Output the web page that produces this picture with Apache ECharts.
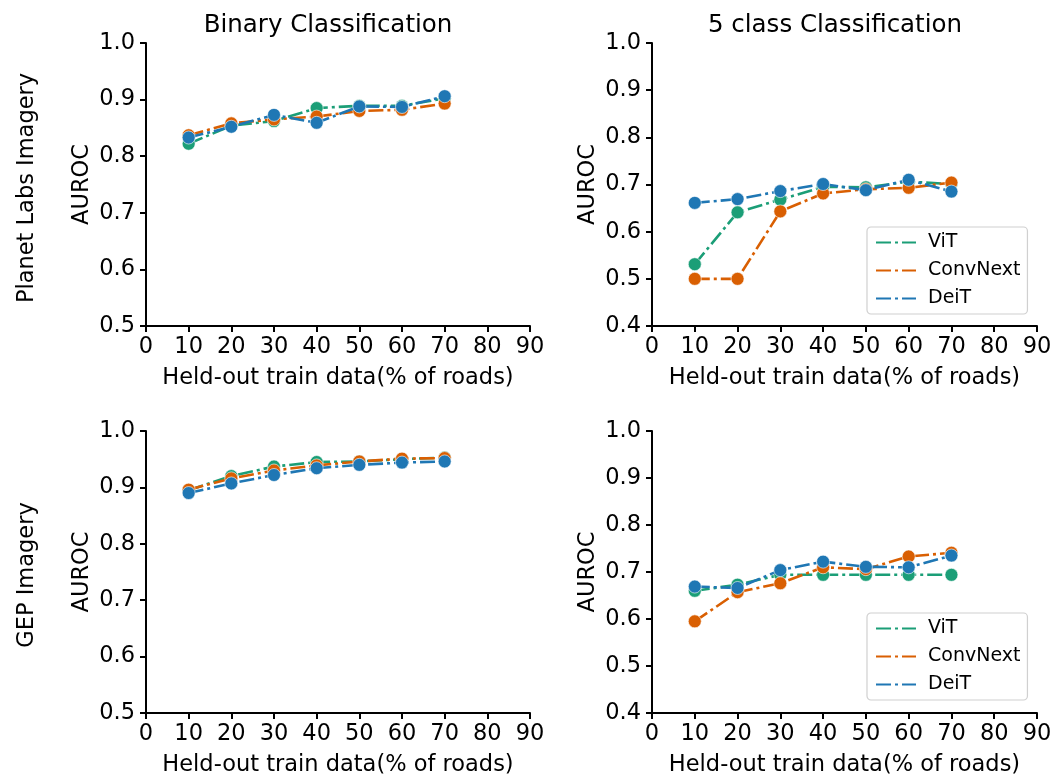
<!DOCTYPE html>
<html>
<head>
<meta charset="utf-8">
<script src="https://cdn.jsdelivr.net/npm/echarts@6/dist/echarts.min.js"></script>
<style>
html,body{margin:0;padding:0;background:#fff;}
#chart{width:1055px;height:780px;}
</style>
</head>
<body>
<div id="chart"></div>
<script>
// Held-out train data (% of roads)
const heldOut = [10, 20, 30, 40, 50, 60, 70];
const seriesNames = ['ViT', 'ConvNext', 'DeiT'];
const colTitles = ['Binary Classification', '5 class Classification'];
const rowTitles = ['Planet Labs Imagery', 'GEP Imagery'];
const xTicks = [0, 90, 10];
const yTicksBinary = [0.5, 1.0, 0.1];
const yTicksFive = [0.4, 1.0, 0.1];

// Planet Labs, binary
const planetBinaryViT      = [0.822, 0.854, 0.862, 0.885, 0.889, 0.889, 0.902];
const planetBinaryConvNext = [0.837, 0.858, 0.865, 0.870, 0.880, 0.882, 0.893];
const planetBinaryDeiT     = [0.833, 0.852, 0.873, 0.859, 0.888, 0.887, 0.906];
// Planet Labs, 5 class
const planetFiveViT      = [0.531, 0.641, 0.668, 0.695, 0.694, 0.706, 0.701];
const planetFiveConvNext = [0.500, 0.500, 0.643, 0.681, 0.690, 0.693, 0.704];
const planetFiveDeiT     = [0.661, 0.669, 0.686, 0.701, 0.688, 0.710, 0.685];
// GEP, binary
const gepBinaryViT      = [0.895, 0.920, 0.937, 0.945, 0.946, 0.950, 0.953];
const gepBinaryConvNext = [0.896, 0.916, 0.930, 0.939, 0.946, 0.951, 0.952];
const gepBinaryDeiT     = [0.890, 0.907, 0.922, 0.934, 0.940, 0.944, 0.946];
// GEP, 5 class
const gepFiveViT      = [0.660, 0.673, 0.694, 0.694, 0.694, 0.694, 0.694];
const gepFiveConvNext = [0.595, 0.657, 0.676, 0.710, 0.706, 0.733, 0.741];
const gepFiveDeiT     = [0.669, 0.666, 0.704, 0.722, 0.711, 0.710, 0.735];

const colors = ['#1b9e77', '#d95f02', '#1f77b4'];
const FONT = 'DejaVu Sans';
const TICK_FS = 22.5;
const LABEL_FS = 22.5;

const panels = [
  {vals: [planetBinaryViT, planetBinaryConvNext, planetBinaryDeiT], y: yTicksBinary},
  {vals: [planetFiveViT, planetFiveConvNext, planetFiveDeiT], y: yTicksFive},
  {vals: [gepBinaryViT, gepBinaryConvNext, gepBinaryDeiT], y: yTicksBinary},
  {vals: [gepFiveViT, gepFiveConvNext, gepFiveDeiT], y: yTicksFive}
];

const gridPos = [
  {left: 146, top: 43, width: 384, height: 283},
  {left: 652, top: 43, width: 385, height: 283},
  {left: 146, top: 431, width: 384, height: 282},
  {left: 652, top: 431, width: 385, height: 282}
];

const axisLine = {show: true, lineStyle: {color: '#000', width: 2}};
const axisTick = {show: true, inside: false, length: 6, lineStyle: {color: '#000', width: 2}};

const grids = [], xAxes = [], yAxes = [], series = [];
panels.forEach((p, i) => {
  grids.push(Object.assign({containLabel: false}, gridPos[i]));
  xAxes.push({
    type: 'value', gridIndex: i, min: xTicks[0], max: xTicks[1], interval: xTicks[2],
    name: 'Held-out train data(% of roads)', nameLocation: 'middle', nameGap: 41,
    nameTextStyle: {fontFamily: FONT, fontSize: LABEL_FS, color: '#000'},
    axisLine: axisLine, axisTick: axisTick,
    axisLabel: {fontFamily: FONT, fontSize: TICK_FS, color: '#000', margin: 10},
    splitLine: {show: false}
  });
  yAxes.push({
    type: 'value', gridIndex: i, min: p.y[0], max: p.y[1], interval: p.y[2],
    name: 'AUROC', nameLocation: 'middle', nameGap: 52, nameRotate: 90,
    nameTextStyle: {fontFamily: FONT, fontSize: LABEL_FS, color: '#000'},
    axisLine: axisLine, axisTick: axisTick,
    axisLabel: {fontFamily: FONT, fontSize: TICK_FS, color: '#000', margin: 11,
      formatter: v => v.toFixed(1)},
    splitLine: {show: false}
  });
  p.vals.forEach((vals, k) => {
    series.push({
      name: seriesNames[k], type: 'line', xAxisIndex: i, yAxisIndex: i,
      data: heldOut.map((x, j) => [x, vals[j]]),
      symbol: 'circle', symbolSize: 13,
      lineStyle: {color: colors[k], width: 2.6, type: [15, 4, 3, 4]},
      itemStyle: {color: colors[k], borderColor: '#fff', borderWidth: 0.6},
      z: 2 + k, animation: false
    });
  });
});

const legendCommon = {
  orient: 'vertical', data: seriesNames, selectedMode: false,
  itemWidth: 40, itemHeight: 16, itemGap: 9,
  padding: [6, 7, 6, 8],
  borderColor: '#d0d0d0', borderWidth: 1.2, borderRadius: 4,
  backgroundColor: '#fff',
  itemStyle: {color: 'rgba(0,0,0,0)', borderWidth: 0},
  textStyle: {fontFamily: FONT, fontSize: 19, color: '#000', padding: [0, 0, 0, 7]}
};

const option = {
  backgroundColor: '#fff',
  animation: false,
  title: [
    {text: colTitles[0], left: 323, top: 8, textAlign: 'center',
     textStyle: {fontFamily: FONT, fontSize: 24.5, fontWeight: 'normal', color: '#000'}},
    {text: colTitles[1], left: 830, top: 8, textAlign: 'center',
     textStyle: {fontFamily: FONT, fontSize: 24.5, fontWeight: 'normal', color: '#000'}}
  ],
  legend: [
    Object.assign({left: 867, top: 227}, legendCommon),
    Object.assign({left: 867, top: 613}, legendCommon)
  ],
  graphic: [
    {type: 'text', x: 27, y: 188, rotation: Math.PI / 2,
     style: {text: rowTitles[0], fontFamily: FONT, fontSize: LABEL_FS, fill: '#000', align: 'center', verticalAlign: 'middle'}},
    {type: 'text', x: 27, y: 575, rotation: Math.PI / 2,
     style: {text: rowTitles[1], fontFamily: FONT, fontSize: LABEL_FS, fill: '#000', align: 'center', verticalAlign: 'middle'}}
  ],
  grid: grids, xAxis: xAxes, yAxis: yAxes, series: series
};

const chart = echarts.init(document.getElementById('chart'), null, {renderer: 'canvas'});
chart.setOption(option);
</script>
</body>
</html>
